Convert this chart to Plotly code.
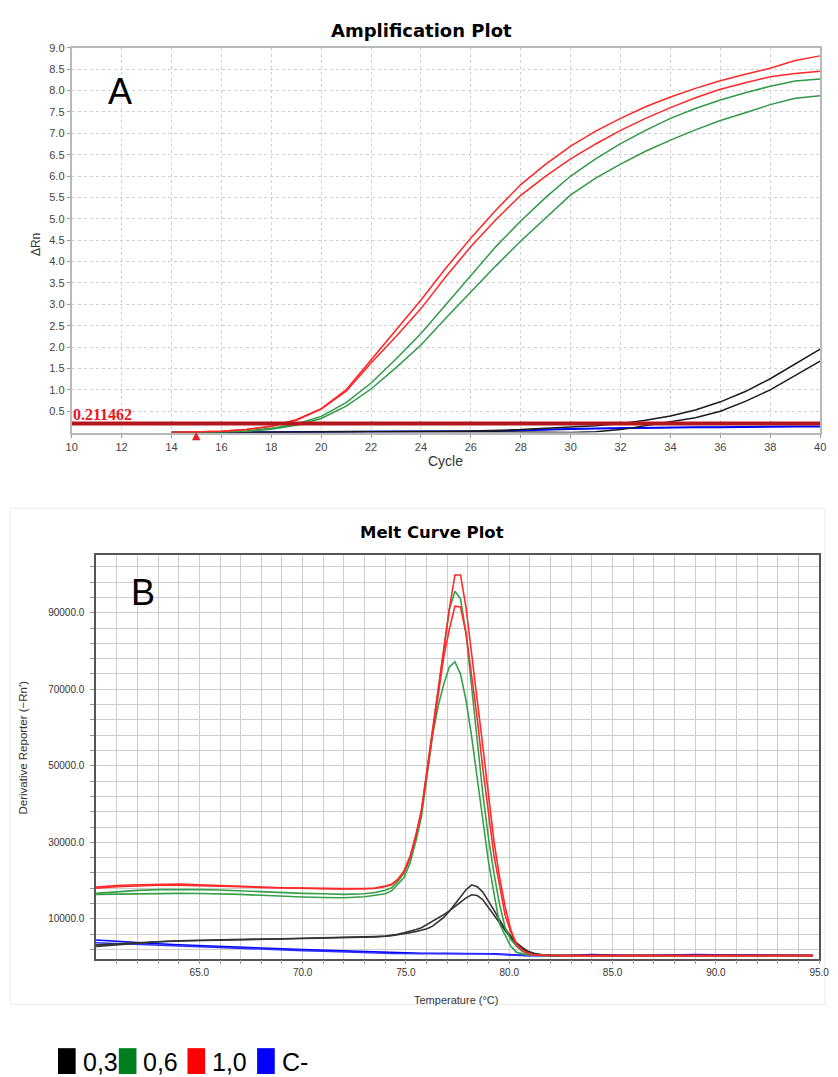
import plotly.graph_objects as go

W, H = 838, 1077
def PX(x): return x / W
def PY(y): return 1 - y / H

# ---------------- Amplification data ----------------
cycles = list(range(14, 41))
amp_red1 = [0.00, 0.01, 0.03, 0.07, 0.15, 0.30, 0.56, 1.00, 1.70, 2.40, 3.10, 3.85, 4.55, 5.20,
            5.80, 6.28, 6.70, 7.05, 7.35, 7.62, 7.85, 8.05, 8.23, 8.38, 8.52, 8.70, 8.81]
amp_red2 = [0.00, 0.01, 0.03, 0.07, 0.15, 0.29, 0.55, 0.97, 1.63, 2.25, 2.90, 3.65, 4.35, 4.98,
            5.55, 6.00, 6.40, 6.75, 7.07, 7.35, 7.60, 7.83, 8.03, 8.18, 8.32, 8.40, 8.45]
amp_green1 = [0.00, 0.00, 0.02, 0.04, 0.10, 0.20, 0.38, 0.70, 1.16, 1.72, 2.32, 3.00, 3.68, 4.35,
              4.95, 5.50, 6.00, 6.40, 6.76, 7.07, 7.35, 7.58, 7.78, 7.95, 8.10, 8.22, 8.27]
amp_green2 = [0.00, 0.00, 0.01, 0.03, 0.08, 0.17, 0.33, 0.62, 1.02, 1.52, 2.05, 2.68, 3.30, 3.90,
              4.48, 5.03, 5.56, 5.95, 6.28, 6.58, 6.84, 7.08, 7.30, 7.48, 7.67, 7.82, 7.88]
amp_black1 = [0.00, 0.00, 0.00, 0.01, 0.01, 0.01, 0.02, 0.02, 0.02, 0.03, 0.03, 0.03, 0.04, 0.05,
              0.07, 0.10, 0.13, 0.16, 0.21, 0.29, 0.39, 0.53, 0.72, 0.96, 1.26, 1.60, 1.95]
amp_black2 = [0.00, 0.00, 0.00, 0.00, 0.01, 0.01, 0.01, 0.01, 0.02, 0.02, 0.02, 0.02, 0.02, 0.02,
              0.02, 0.01, 0.00, 0.02, 0.07, 0.16, 0.25, 0.35, 0.50, 0.73, 1.00, 1.33, 1.67]
amp_blue1 = [0.00, 0.00, 0.01, 0.01, 0.01, 0.02, 0.02, 0.02, 0.02, 0.02, 0.02, 0.03, 0.03, 0.04,
             0.06, 0.08, 0.09, 0.10, 0.11, 0.12, 0.13, 0.13, 0.13, 0.14, 0.14, 0.15, 0.15]
amp_blue2 = [0.00, 0.00, 0.00, 0.01, 0.01, 0.01, 0.01, 0.02, 0.02, 0.02, 0.02, 0.02, 0.03, 0.03,
             0.05, 0.07, 0.08, 0.09, 0.10, 0.11, 0.12, 0.12, 0.12, 0.13, 0.13, 0.14, 0.14]
threshold = 0.211462
threshold_label = "0.211462"
baseline_marker_cycle = 15

amp_xticks = list(range(10, 41, 2))
amp_yticks = [0.5 * i for i in range(1, 19)]

# ---------------- Melt curve data ----------------
temps = [60, 61, 62, 63, 64, 65, 66, 67, 68, 69, 70, 71, 72, 73, 73.5,
         74.0, 74.3, 74.6, 74.9, 75.2, 75.5, 75.75, 76.02, 76.29, 76.56, 76.83, 77.10,
         77.37, 77.64, 77.91, 78.18, 78.45, 78.72, 78.99, 79.26, 79.53, 79.80, 80.07,
         80.34, 80.61, 80.88, 81.2, 81.6, 82, 83, 84, 85, 86, 87, 88, 89, 90, 91, 92, 93, 94, 94.7]
melt_red1 = [18300, 18700, 18900, 19050, 19100, 18900, 18650, 18500, 18300, 18150, 18000, 17950, 17900, 17900, 18050,
             18570, 19010, 20310, 22470, 26360, 32410, 38490, 48880, 59420, 69550, 79600, 91000,
             99860, 99860, 91290, 79940, 67130, 55110, 42540, 30260, 20990, 13190, 7220,
             3430, 1950, 1090, 570, 450, 420, 400, 400, 400, 400, 400, 400, 400, 400, 400, 400, 400, 400, 400]
melt_red2 = [18000, 18400, 18600, 18800, 18800, 18700, 18500, 18400, 18200, 18050, 17900, 17850, 17800, 17850, 17950,
             18450, 18900, 20200, 22300, 26100, 32000, 38200, 48500, 59000, 69000, 78500, 85650,
             91720, 91500, 84560, 73530, 62270, 49290, 37960, 26540, 18750, 10960, 6620,
             3200, 1900, 1050, 560, 450, 420, 400, 400, 400, 400, 400, 400, 400, 400, 400, 400, 400, 400, 400]
melt_green1 = [16670, 17100, 17450, 17650, 17710, 17650, 17540, 17300, 17010, 16850, 16670, 16550, 16410, 16580, 16900,
               17450, 18100, 19700, 21900, 25800, 31800, 38000, 48300, 59000, 69300, 79600, 90840,
               95620, 93690, 84500, 71000, 58000, 42720, 31300, 21870, 13820, 7750, 4630,
               2900, 1600, 900, 520, 420, 380, 370, 360, 380, 370, 360, 350, 360, 370, 360, 350, 360, 380, 370]
melt_green2 = [16410, 16500, 16580, 16650, 16670, 16620, 16580, 16400, 16150, 15900, 15730, 15600, 15530, 15790, 16100,
               16580, 17300, 19000, 20740, 24620, 30700, 36750, 47000, 58000, 65660, 71290, 75860,
               77190, 73970, 67060, 57600, 46360, 35530, 25060, 16670, 8700, 5770, 2900,
               1300, 900, 600, 500, 420, 380, 360, 350, 360, 350, 360, 350, 360, 350, 360, 350, 360, 350, 360]
melt_black1 = [3200, 3500, 3850, 4100, 4290, 4400, 4550, 4650, 4730, 4800, 4900, 5000, 5160, 5200, 5300,
               5450, 5600, 5800, 6100, 6400, 6700, 7000, 7400, 8100, 9200, 10400, 12000,
               13900, 15900, 17600, 18900, 18400, 17000, 14800, 12300, 9700, 7400, 5500,
               3800, 2600, 1600, 1000, 600, 450, 420, 400, 400, 410, 420, 400, 400, 420, 410, 400, 400, 420, 400]
melt_black2 = [2800, 3200, 3700, 4000, 4200, 4350, 4500, 4600, 4700, 4750, 4850, 4950, 5050, 5150, 5300,
               5500, 5700, 6000, 6350, 6700, 7200, 7700, 8500, 9300, 10200, 11100, 12100,
               13300, 14500, 15500, 16300, 16100, 15000, 13000, 10900, 8800, 6700, 5000,
               3500, 2300, 1400, 900, 550, 450, 400, 400, 400, 400, 400, 400, 400, 400, 400, 400, 400, 400, 400]
melt_blue1 = [4460, 4100, 3770, 3500, 3250, 3000, 2730, 2550, 2380, 2150, 1950, 1780, 1600, 1400, 1300,
              1170, 1100, 1050, 1000, 980, 970, 980, 1000, 1000, 1020, 1030, 1050,
              1050, 1060, 1050, 1050, 1040, 1020, 980, 900, 800, 700, 600,
              520, 470, 440, 420, 400, 400, 450, 650, 450, 420, 500, 620, 650, 640, 560, 420, 400, 400, 400]
melt_blue2 = [3770, 3550, 3340, 3150, 2990, 2700, 2380, 2250, 2120, 1900, 1690, 1550, 1430, 1250, 1150,
              1000, 950, 920, 900, 890, 880, 880, 890, 900, 900, 910, 920,
              920, 920, 910, 900, 880, 850, 800, 740, 660, 580, 500,
              450, 420, 400, 400, 400, 400, 420, 550, 430, 400, 420, 500, 520, 500, 450, 400, 400, 400, 400]

melt_xtick_vals = list(range(61, 96))
melt_xtick_text = [f"{v:.1f}" if v % 5 == 0 else "" for v in melt_xtick_vals]
melt_ytick_vals = list(range(2000, 105000, 4000))
melt_ytick_text = [f"{v:.1f}" if (v - 10000) % 20000 == 0 and v >= 10000 else "" for v in melt_ytick_vals]

legend_labels = ["0,3", "0,6", "1,0", "C-"]
legend_colors = ["#000000", "#007f1e", "#ff0000", "#0000ff"]

# ---------------- Figure ----------------
fig = go.Figure()

amp_series = [
    (amp_blue1, "#0000ff"), (amp_blue2, "#0000ff"),
    (amp_black1, "#1a1a1a"), (amp_black2, "#1a1a1a"),
    (amp_green1, "#2f9a47"), (amp_green2, "#2f9a47"),
    (amp_red1, "#ff2626"), (amp_red2, "#ff2626"),
]
for ys, c in amp_series:
    fig.add_trace(go.Scatter(x=cycles, y=ys, mode="lines", line=dict(color=c, width=1.5),
                             xaxis="x", yaxis="y", showlegend=False, hoverinfo="skip"))

fig.add_trace(go.Scatter(x=[amp_xticks[0], amp_xticks[-1]], y=[threshold, threshold], mode="lines",
                         line=dict(color="#b3161c", width=4), xaxis="x", yaxis="y",
                         showlegend=False, hoverinfo="skip"))

melt_series = [
    (melt_blue1, "#0000ff"), (melt_blue2, "#3030ff"),
    (melt_black1, "#333333"), (melt_black2, "#333333"),
    (melt_green1, "#35a048"), (melt_green2, "#35a048"),
    (melt_red1, "#ff2a2a"), (melt_red2, "#ff2a2a"),
]
for ys, c in melt_series:
    fig.add_trace(go.Scatter(x=temps, y=ys, mode="lines", line=dict(color=c, width=1.6),
                             xaxis="x2", yaxis="y2", showlegend=False, hoverinfo="skip"))

tickfont_top = dict(family="Liberation Sans, Arial", size=11, color="#444444")
tickfont_bot = dict(family="Liberation Sans, Arial", size=10, color="#333333")

fig.update_layout(
    width=W, height=H, margin=dict(l=0, r=0, t=0, b=0),
    paper_bgcolor="white", plot_bgcolor="white", showlegend=False,
    xaxis=dict(domain=[PX(67), PX(830)], range=[10, 40], tickmode="array", tickvals=amp_xticks,
               ticktext=[str(v) for v in amp_xticks], tickfont=tickfont_top,
               showgrid=True, gridcolor="#d2d2d2", griddash="dot", gridwidth=1,
               showline=True, linecolor="#b8b8b8", linewidth=2, mirror=True,
               ticks="outside", ticklen=3, tickcolor="#999999", zeroline=False, anchor="y"),
    yaxis=dict(domain=[PY(429), PY(42)], range=[0, 9], tickmode="array", tickvals=amp_yticks,
               ticktext=[f"{v:.1f}" for v in amp_yticks], tickfont=tickfont_top,
               showgrid=True, gridcolor="#d2d2d2", griddash="dot", gridwidth=1,
               showline=True, linecolor="#b8b8b8", linewidth=2, mirror=True,
               ticks="outside", ticklen=3, tickcolor="#999999", zeroline=False, anchor="x"),
    xaxis2=dict(domain=[PX(91.8), PX(829)], range=[60, 95], tickmode="array", tickvals=melt_xtick_vals,
                ticktext=melt_xtick_text, tickfont=tickfont_bot,
                showgrid=True, gridcolor="#cdcdcd", gridwidth=1.3,
                showline=True, linecolor="#555555", linewidth=1.5, mirror=True,
                ticks="outside", ticklen=4, tickcolor="#999999", zeroline=False, anchor="y2"),
    yaxis2=dict(domain=[PY(958), PY(552)], range=[-400, 105100], tickmode="array", tickvals=melt_ytick_vals,
                ticktext=melt_ytick_text, tickfont=tickfont_bot,
                showgrid=True, gridcolor="#cdcdcd", gridwidth=1.3,
                showline=True, linecolor="#555555", linewidth=1.5, mirror=True,
                ticks="outside", ticklen=4, tickcolor="#999999", zeroline=False, anchor="x2",
                ticklabelstandoff=4),
)

def label(text, x, y, size, family="Liberation Sans, Arial", color="#333", angle=0,
          xanchor="center", yanchor="middle"):
    return dict(text=text, x=PX(x), y=PY(y), xref="paper", yref="paper", showarrow=False,
                xanchor=xanchor, yanchor=yanchor, textangle=angle,
                font=dict(family=family, size=size, color=color))

ann = [
    label("<b>Amplification Plot</b>", 424, 25, 18, family="DejaVu Sans", color="#000"),
    label("<b>Melt Curve Plot</b>", 434, 529, 16.5, family="DejaVu Sans", color="#000"),
    label("Cycle", 448, 458, 14),
    label("ΔRn", 30, 240, 12, angle=-90),
    label("Temperature (°C)", 459, 1000, 11),
    label("Derivative Reporter (−Rn′)", 17, 746, 11.5, angle=-90),
    label("A", 116, 86, 36, color="#000"),
    label("B", 140, 590, 36, color="#000"),
]
ann.append(dict(text=f"<b>{threshold_label}</b>", x=amp_xticks[0], y=threshold, xref="x", yref="y",
                xanchor="left", yanchor="bottom", showarrow=False, xshift=-1, yshift=-1,
                font=dict(family="Liberation Serif, Times New Roman", size=16, color="#e8161d")))
# baseline start marker (triangle under the axis)
ann.append(dict(text="▲", x=baseline_marker_cycle, y=0, xref="x", yref="y", xanchor="center",
                yanchor="middle", yshift=-3, showarrow=False,
                font=dict(family="DejaVu Sans", size=11, color="#d8262c")))

# legend
box_x = [53, 115, 185, 256]
for lbl, col, bx in zip(legend_labels, legend_colors, box_x):
    fig.add_shape(type="rect", xref="paper", yref="paper", x0=PX(bx), x1=PX(bx + 18),
                  y0=PY(1074), y1=PY(1048), fillcolor=col, line=dict(width=0))
    ann.append(label(lbl, bx + 23, 1062, 25, color="#000", xanchor="left"))

# faint frame around melt chart panel
fig.add_shape(type="rect", xref="paper", yref="paper", x0=PX(4), x1=PX(835), y0=PY(1004), y1=PY(505),
              line=dict(color="#ececec", width=1), layer="below")

fig.update_layout(annotations=ann)
fig.write_html("out.html")
